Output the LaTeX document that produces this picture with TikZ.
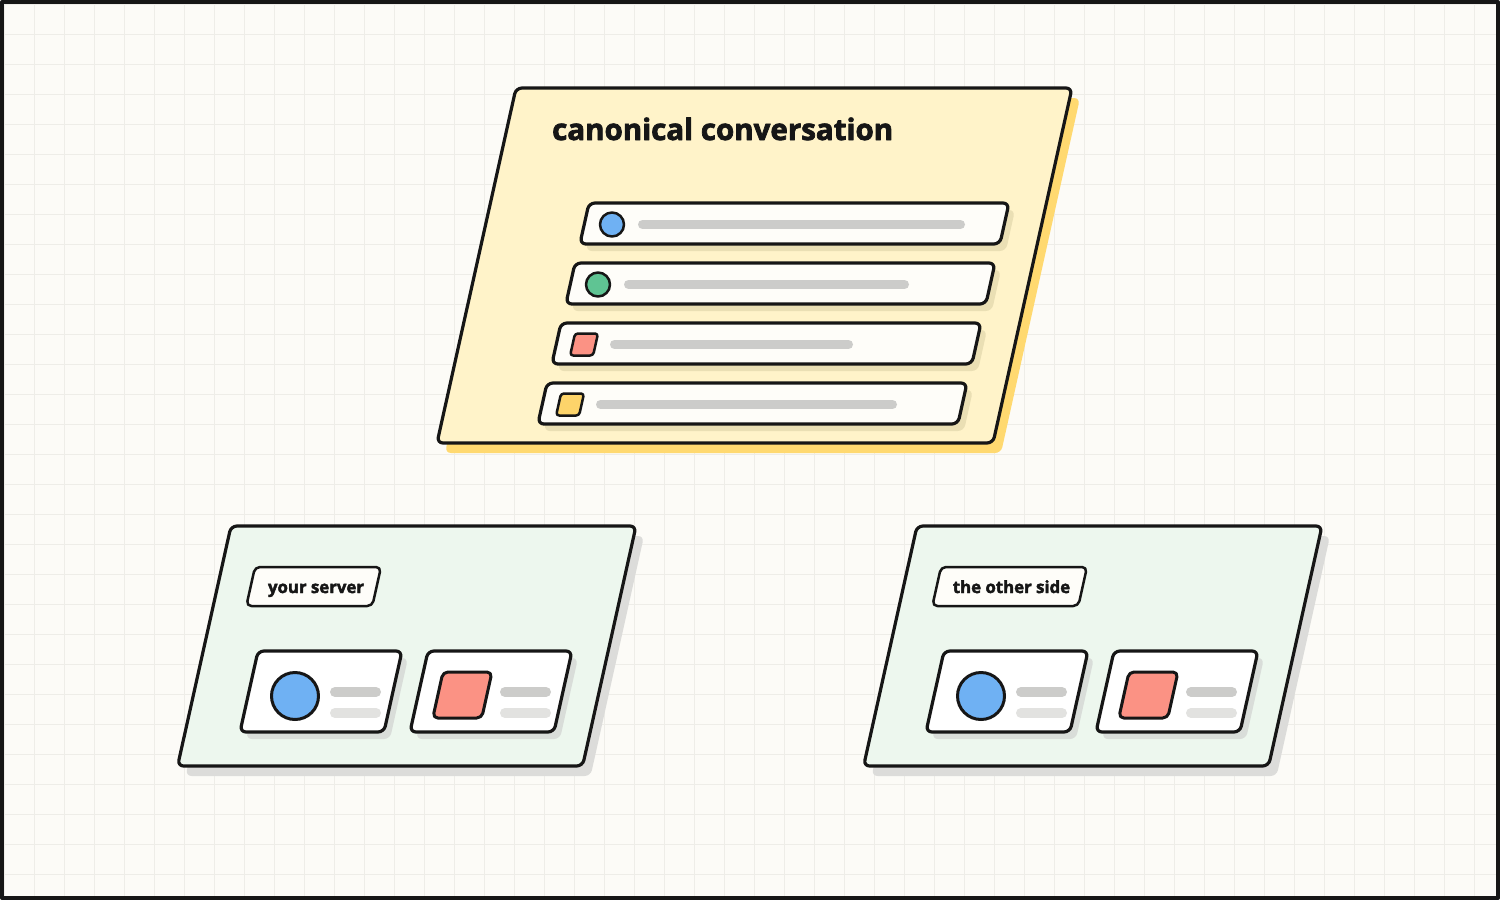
\documentclass[tikz,border=0pt]{standalone}
\usepackage{fontspec}
\setmainfont{Open Sans}[BoldFeatures={FakeBold=2.5}]
\definecolor{bgc}{HTML}{FCFBF7}
\definecolor{gridc}{HTML}{EEEDE8}
\definecolor{ink}{HTML}{161616}
\definecolor{cream}{HTML}{FFF3C9}
\definecolor{gold}{HTML}{FFD970}
\definecolor{rowfill}{HTML}{FEFDF9}
\definecolor{rowshadow}{HTML}{EADFB4}
\definecolor{mint}{HTML}{EDF7EE}
\definecolor{greyshadow}{HTML}{DCDCDA}
\definecolor{cardshadow}{HTML}{D9DDD9}
\definecolor{barc}{HTML}{CCCCCA}
\definecolor{barlight}{HTML}{E2E2E0}
\definecolor{cblue}{HTML}{6FB1F3}
\definecolor{cgreen}{HTML}{5FC493}
\definecolor{cred}{HTML}{FB9284}
\definecolor{cyellow}{HTML}{FDD46A}
% #1 options, #2 x, #3 y (top-left), #4 width, #5 height
\newcommand\Slab[5]{\path[#1] (#2,#3) -- ++(#4,0) -- ++({-0.2225*#5},#5) -- ++({-#4},0) -- cycle;}
\begin{document}
\begin{tikzpicture}[x=1pt,y=-1pt,line join=round,
  outline/.style={draw=ink,line width=3.2pt},
  bar/.style={line width=9pt,line cap=round,draw=barc},
  lbar/.style={line width=10pt,line cap=round,draw=barlight},
  dbar/.style={line width=10pt,line cap=round,draw=barc},
  titlefont/.style={font=\bfseries\fontsize{29.5}{35}\selectfont,text=ink},
  labelfont/.style={font=\bfseries\fontsize{16.8}{20}\selectfont,text=ink}]
\useasboundingbox (0,0) rectangle (1500,900);
\fill[bgc] (0,0) rectangle (1500,900);
\foreach \i in {0,...,49} \draw[gridc,line width=1pt] ({4+30*\i},0) -- ({4+30*\i},900);
\foreach \j in {0,...,29} \draw[gridc,line width=1pt] (0,{4+30*\j}) -- (1500,{4+30*\j});
\draw[ink,line width=4pt] (2,2) rectangle (1498,898);

% ===== canonical conversation panel =====
\Slab{fill=gold,rounded corners=6pt}{524}{98}{556}{355}
\Slab{fill=cream,outline,rounded corners=6pt}{516}{88}{556}{355}
\node[titlefont,anchor=base west,inner sep=0pt] (title) at (552,140) {canonical conversation};

% rows
\foreach \k/\xs in {0/589,1/575,2/561,3/547}{
  \pgfmathsetmacro\ys{203+60*\k}
  \Slab{fill=rowshadow,rounded corners=6pt}{\xs+6}{\ys+7}{420}{41}
  \Slab{fill=rowfill,outline,rounded corners=6pt}{\xs}{\ys}{420}{41}
}
\node[circle,draw=ink,line width=2.5pt,fill=cblue,minimum size=24pt,inner sep=0pt] (i1) at (612,224.5) {};
\node[circle,draw=ink,line width=2.5pt,fill=cgreen,minimum size=24pt,inner sep=0pt] (i2) at (598,284.5) {};
\Slab{fill=cred,draw=ink,line width=2.5pt,rounded corners=3pt}{575}{333.5}{23}{22}
\Slab{fill=cyellow,draw=ink,line width=2.5pt,rounded corners=3pt}{561}{393.5}{23}{22}
\draw[bar] (642.5,224.5) -- (960.5,224.5);
\draw[bar] (628.5,284.5) -- (904.5,284.5);
\draw[bar] (614.5,344.5) -- (848.5,344.5);
\draw[bar] (600.5,404.5) -- (892.5,404.5);

% ===== lower panels =====
\foreach \dx/\lab/\lw/\tx in {0/{your server}/126/316, 686/{the other side}/146/1011.5}{
  \Slab{fill=greyshadow,rounded corners=6pt}{231+\dx+8}{536}{405}{240}
  \Slab{fill=mint,outline,rounded corners=6pt}{231+\dx}{526}{405}{240}
  \Slab{fill=rowfill,draw=ink,line width=2.5pt,rounded corners=5pt}{255+\dx}{567}{\lw}{39}
  \node[labelfont,anchor=base,inner sep=0pt] at (\tx,593) {\lab};
  % cards
  \Slab{fill=cardshadow,rounded corners=6pt}{258+\dx+6}{658}{144}{81}
  \Slab{fill=white,outline,rounded corners=6pt}{258+\dx}{651}{144}{81}
  \Slab{fill=cardshadow,rounded corners=6pt}{428+\dx+6}{658}{144}{81}
  \Slab{fill=white,outline,rounded corners=6pt}{428+\dx}{651}{144}{81}
  \draw[ink,line width=3pt,fill=cblue] (295+\dx,696) circle[radius=23.5];
  \Slab{fill=cred,draw=ink,line width=3pt,rounded corners=5pt}{443+\dx}{672}{49}{46}
  \draw[dbar] (335+\dx,692) -- (376+\dx,692);
  \draw[lbar] (335+\dx,713) -- (376+\dx,713);
  \draw[dbar] (505+\dx,692) -- (546+\dx,692);
  \draw[lbar] (505+\dx,713) -- (546+\dx,713);
}
\end{tikzpicture}
\end{document}
